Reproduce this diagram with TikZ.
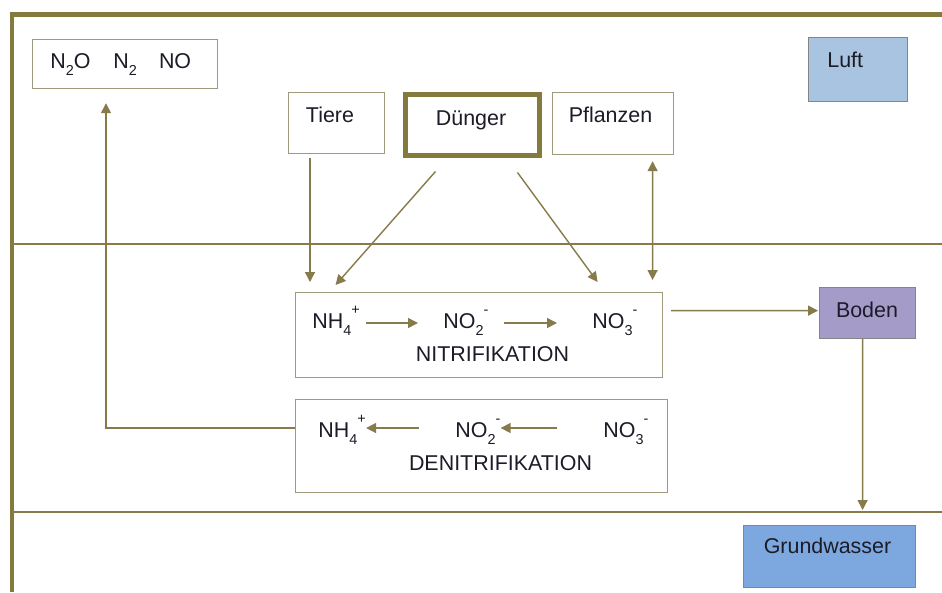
\documentclass[tikz,border=0pt]{standalone}
\usepackage{fontspec}
\setmainfont{Liberation Sans}
\usetikzlibrary{arrows.meta,calc}
\definecolor{framecol}{HTML}{857A3E}
\definecolor{olivel}{HTML}{877B4C}
\definecolor{boxline}{HTML}{A09A7C}
\definecolor{ink}{HTML}{1C1C28}
\definecolor{luftfill}{HTML}{A9C4E1}
\definecolor{bodenfill}{HTML}{A59BC9}
\definecolor{grundfill}{HTML}{7CA7DF}
\definecolor{grayline}{HTML}{858585}
\newcommand{\mysub}[1]{\raisebox{-0.36em}{\fontsize{8.2}{9}\selectfont #1}}
\newcommand{\mysup}[1]{\raisebox{0.62em}{\fontsize{8.2}{9}\selectfont #1}}
\begin{document}
\begin{tikzpicture}[x=0.02cm,y=-0.02cm,
  txt/.style={font=\fontsize{12.2}{14}\selectfont, text=ink, inner sep=0pt},
  specA/.style={txt, anchor=base west, text height=0.3cm, text depth=0.1cm},
  specB/.style={txt, anchor=base west, text height=0.38cm, text depth=0.02cm},
  box/.style={draw=boxline, line width=0.7pt, inner sep=0pt, anchor=north west},
  colbox/.style={box, draw=grayline},
  arr/.style={draw=olivel, line width=0.8pt, -{Triangle[length=0.2cm,width=0.2cm]}},
  darr/.style={draw=olivel, line width=0.8pt, {Triangle[length=0.2cm,width=0.2cm]}-{Triangle[length=0.2cm,width=0.2cm]}},
  zone/.style={draw=olivel, line width=0.8pt}]
\useasboundingbox (0,0) rectangle (942,592);
\fill[white] (0,0) rectangle (942,592);

% frame and zone lines
\draw[framecol, line width=0.1cm, line join=miter] (942,14.5) -- (12,14.5) -- (12,592);
\draw[zone] (12,244) -- (942,244);
\draw[zone] (12,512) -- (942,512);

% boxes
\node[box, minimum width=3.70cm, minimum height=0.98cm] (gas) at (32,39) {};
\node[box, minimum width=1.92cm, minimum height=1.22cm] (tiere) at (288,92) {};
\node[box, draw=framecol, line width=0.1cm, minimum width=2.70cm, minimum height=1.24cm] (dunger) at (402.5,91.5) {};
\node[box, minimum width=2.42cm, minimum height=1.24cm] (pflanzen) at (552,92) {};
\node[colbox, fill=luftfill, minimum width=1.98cm, minimum height=1.28cm] (luft) at (808,37) {};
\node[colbox, fill=bodenfill, minimum width=1.92cm, minimum height=1.02cm] (boden) at (819,287) {};
\node[colbox, fill=grundfill, minimum width=3.44cm, minimum height=1.24cm] (grund) at (743,525) {};
\node[box, minimum width=7.34cm, minimum height=1.70cm] (nitrif) at (295,292) {};
\node[box, minimum width=7.44cm, minimum height=1.86cm] (denit) at (295,399) {};

% box texts
\node[txt, anchor=base west] (gastxt) at (50,68) {N\mysub{2}O\hspace{0.46cm}N\mysub{2}\hspace{0.44cm}NO};
\node[txt, anchor=base] (tieretxt) at (330,122) {Tiere};
\node[txt, anchor=base] (dungertxt) at (471,125) {Dünger};
\node[txt, anchor=base] (pflanzentxt) at (610.5,122) {Pflanzen};
\node[txt, anchor=base west] (lufttxt) at (827,67) {Luft};
\node[txt, anchor=base] (bodentxt) at (867,317) {Boden};
\node[txt, anchor=base] (grundtxt) at (827.5,553) {Grundwasser};

% nitrification row
\node[specA] (nh4a) at (312,328) {NH\mysub{4}\mysup{+}};
\node[specA] (no2a) at (443,328) {NO\mysub{2}\mysup{-}};
\node[specA] (no3a) at (592,328) {NO\mysub{3}\mysup{-}};
\node[txt, anchor=base] (nitlabel) at (492.5,361) {NITRIFIKATION};
\draw[arr, shorten <=0.12cm, shorten >=0.5cm] (nh4a.east) -- (no2a.west);
\draw[arr, shorten <=0.3cm, shorten >=0.7cm] (no2a.east) -- (no3a.west);

% denitrification row
\node[specB] (nh4b) at (318,437) {NH\mysub{4}\mysup{+}};
\node[specB] (no2b) at (455,437) {NO\mysub{2}\mysup{-}};
\node[specB] (no3b) at (603,437) {NO\mysub{3}\mysup{-}};
\node[txt, anchor=base] (denlabel) at (500.5,470) {DENITRIFIKATION};
\draw[arr, shorten <=0.72cm] (no2b.west) -- (nh4b.east);
\draw[arr, shorten <=0.92cm] (no3b.west) -- (no2b.east);

% connectors
\coordinate (bend) at (106,428);
\draw[arr, shorten >=0.28cm] (denit.west |- bend) -- (bend) -- (gas.south -| bend);

\coordinate (tx) at (310,0);
\draw[arr, shorten <=0.08cm, shorten >=0.2cm] (tiere.south -| tx) -- (nitrif.north -| tx);

\draw[arr] ($(dunger.south)+(-37,13)$) -- ($(nitrif.north)+(-143.5,-7)$);
\draw[arr] ($(dunger.south)+(45,14)$) -- ($(nitrif.north)+(118.5,-10)$);

\draw[darr] ($(pflanzen.south)+(39.5,6)$) -- ($(nitrif.north)+(173.5,-12)$);

\draw[arr] ($(nitrif.east)+(8,-24.5)$) -- ($(boden.west)+(-1,-2.5)$);
\draw[arr] ($(boden.south)+(-5,0)$) -- ($(grund.north)+(33,-15)$);
\end{tikzpicture}
\end{document}
